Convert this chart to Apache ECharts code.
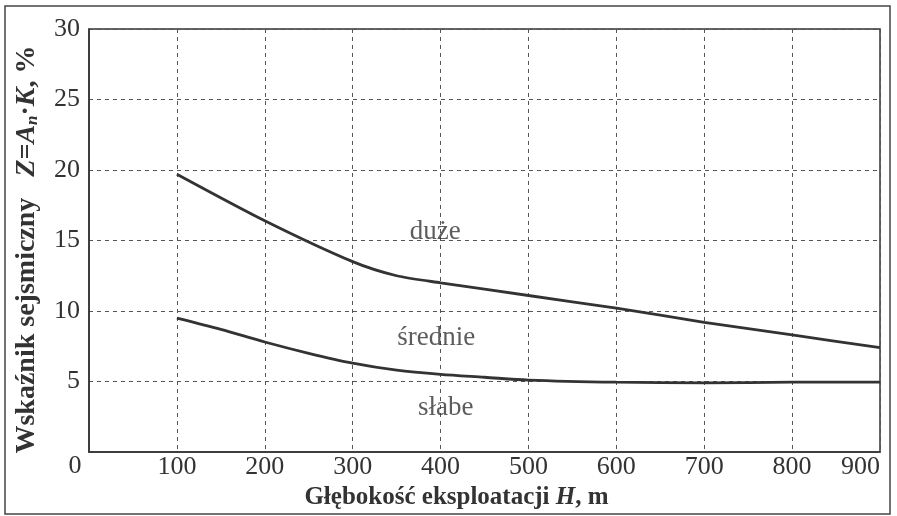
<!DOCTYPE html>
<html>
<head>
<meta charset="utf-8">
<script src="https://cdn.jsdelivr.net/npm/echarts@6/dist/echarts.min.js"></script>
<style>
html,body{margin:0;padding:0;background:#fff;}
#c{width:897px;height:516px;}
</style>
</head>
<body>
<div id="c"></div>
<script>
// boundary between "duże" and "średnie": depth H (m) and Z (%)
const upperH = [100,200,300,350,400,500,600,700,800,900];
const upperZ = [19.7,16.4,13.5,12.5,12.0,11.1,10.2,9.2,8.3,7.4];
// boundary between "średnie" and "słabe"
const lowerH = [100,150,200,250,300,350,400,450,500,600,700,800,900];
const lowerZ = [9.5,8.7,7.8,7.0,6.3,5.8,5.5,5.3,5.1,4.95,4.9,4.95,4.95];
// region labels: [H, Z, text]
const regionLabels = [[394,15.6,'duże'],[395,8.1,'średnie'],[406,3.1,'słabe']];
const xTicks = [0,100,200,300,400,500,600,700,800,900];
const yTicks = [0,5,10,15,20,25,30];

const ink = '#333';
const serif = "'Liberation Serif','Times New Roman',serif";

const chart = echarts.init(document.getElementById('c'));
chart.setOption({
  backgroundColor: '#fff',
  animation: false,
  grid: {left: 89, right: 17, top: 29, bottom: 64, show: true, borderColor: ink, borderWidth: 1.5, backgroundColor: 'transparent'},
  xAxis: {
    type: 'value', min: xTicks[0], max: xTicks[xTicks.length-1], interval: 100,
    name: 'Głębokość eksploatacji {i|H}, m',
    nameLocation: 'middle', nameGap: 28,
    nameTextStyle: {fontFamily: serif, fontWeight: 'bold', fontSize: 25, color: ink, padding: [0,56,0,0],
      rich: {i: {fontFamily: serif, fontWeight: 'bold', fontStyle: 'italic', fontSize: 25, color: ink}}},
    axisLine: {show: true, lineStyle: {color: ink, width: 1.5}},
    axisTick: {show: false},
    axisLabel: {fontFamily: serif, fontSize: 26, color: ink, margin: 2, alignMaxLabel: 'right',
      formatter: v => v === 0 ? '' : String(v)},
    splitLine: {show: true, lineStyle: {color: '#555', width: 1, type: [4,4]}}
  },
  yAxis: {
    type: 'value', min: yTicks[0], max: yTicks[yTicks.length-1], interval: 5,
    name: 'Wskaźnik sejsmiczny   {i|Z}={i|A}{s|n}·{i|K}, %',
    nameLocation: 'middle', nameGap: 48,
    nameTextStyle: {fontFamily: serif, fontWeight: 'bold', fontSize: 28, color: ink, padding: [0,18,0,0],
      rich: {
        i: {fontFamily: serif, fontWeight: 'bold', fontStyle: 'italic', fontSize: 28, color: ink},
        s: {fontFamily: serif, fontWeight: 'bold', fontStyle: 'italic', fontSize: 17, color: ink, padding: [12,0,0,0]}
      }},
    axisLine: {show: true, lineStyle: {color: ink, width: 1.5}},
    axisTick: {show: false},
    axisLabel: {fontFamily: serif, fontSize: 26, color: ink, margin: 9,
      formatter: v => v === 0 ? '' : String(v)},
    splitLine: {show: true, lineStyle: {color: '#555', width: 1, type: [4,4]}}
  },
  series: [
    {type: 'line', data: upperH.map((h,i)=>[h, upperZ[i]]), smooth: 0.25, symbol: 'none',
      lineStyle: {color: ink, width: 2.8}},
    {type: 'line', data: lowerH.map((h,i)=>[h, lowerZ[i]]), smooth: 0.3, symbol: 'none',
      lineStyle: {color: ink, width: 2.8}},
    {type: 'scatter', data: regionLabels.map(r=>({value:[r[0], r[1]], name: r[2]})), symbolSize: 0,
      label: {show: true, position: 'inside', formatter: p => p.name,
        fontFamily: serif, fontSize: 27, color: ink}}
  ],
  graphic: [
    {type: 'rect', shape: {x: 5, y: 6, width: 885, height: 508}, style: {fill: 'none', stroke: '#444', lineWidth: 1.5}, silent: true},
    {type: 'text', x: 75, y: 466, style: {text: '0', font: "26px 'Liberation Serif', serif", fill: ink, align: 'center', verticalAlign: 'middle'}}
  ]
});
</script>
</body>
</html>
